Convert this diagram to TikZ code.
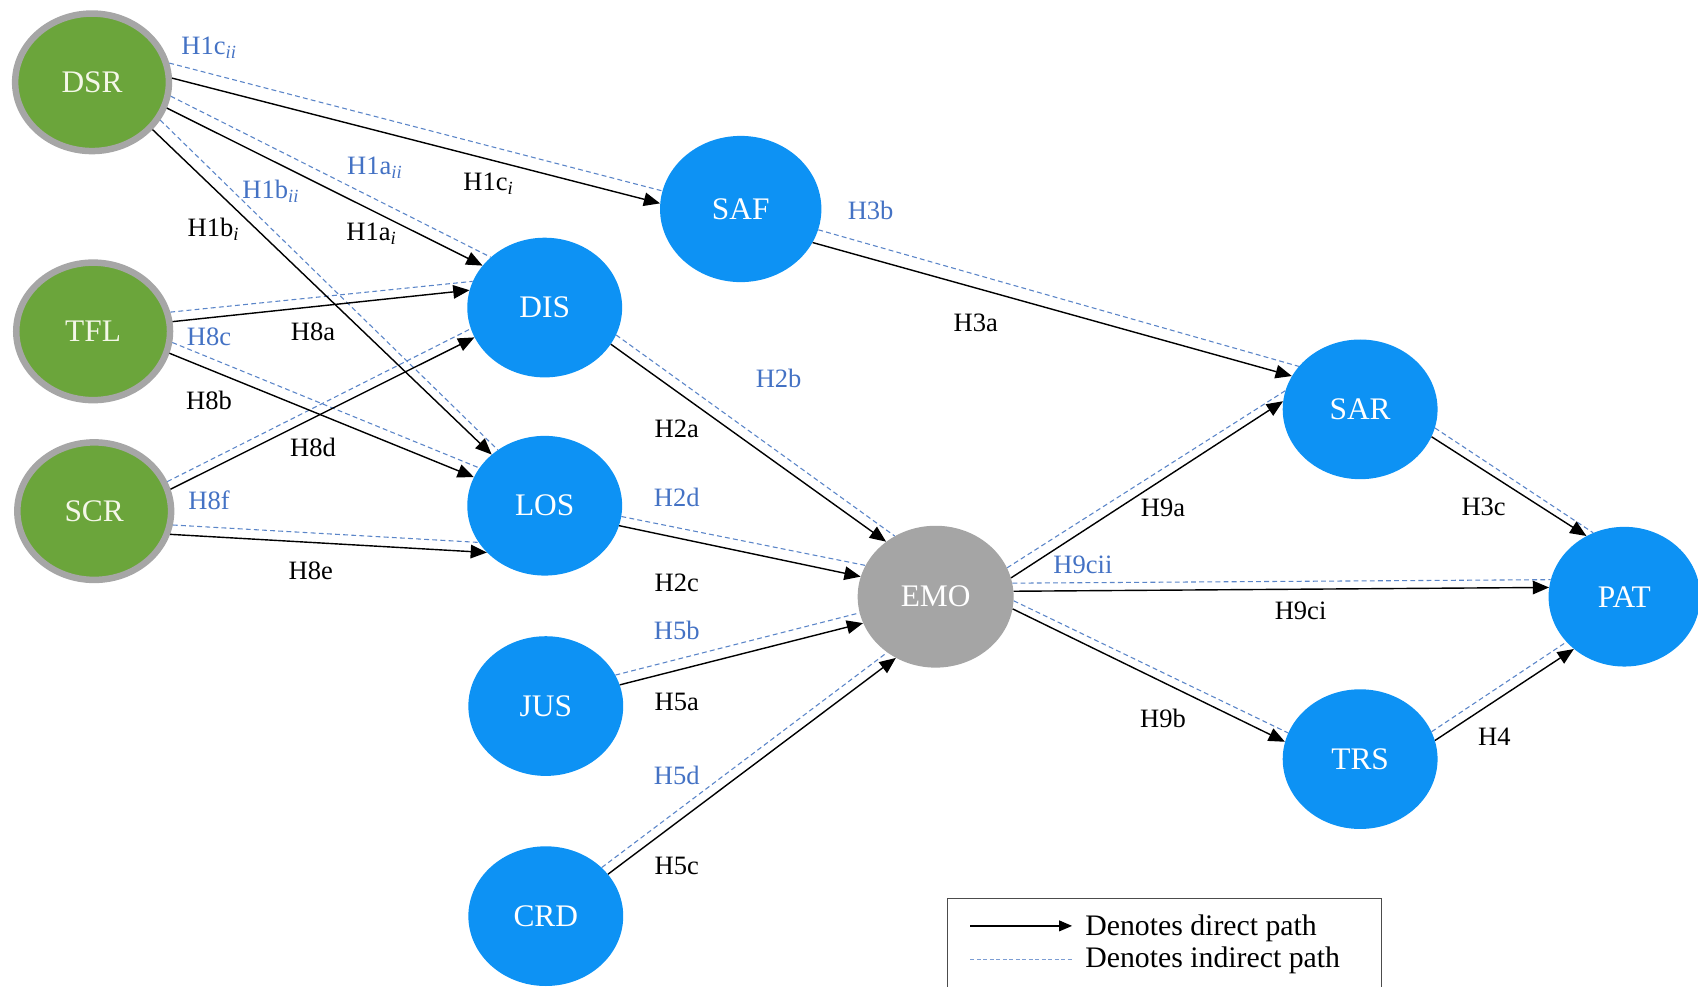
\documentclass[tikz,border=0pt]{standalone}
\usepackage{fontspec}
\setmainfont{Liberation Serif}
\usetikzlibrary{shapes.geometric,arrows.meta}

\definecolor{antgreen}{HTML}{6BA53B}
\definecolor{ringgray}{HTML}{A6A6A6}
\definecolor{medblue}{HTML}{0D92F4}
\definecolor{medgray}{HTML}{A5A5A5}
\definecolor{labblue}{HTML}{4472C4}
\definecolor{dashblue}{HTML}{5B85C8}
\definecolor{creamtext}{HTML}{F4F7E8}

\tikzset{
  construct/.style={ellipse, inner sep=0pt, font=\fontsize{29}{29}\selectfont},
  antecedent/.style={construct, fill=antgreen, draw=ringgray, line width=6pt,
    minimum width=142pt, minimum height=127pt, text=creamtext},
  mediator/.style={construct, fill=medblue, minimum width=143pt, minimum height=129pt, text=white},
  hub/.style={construct, fill=medgray, minimum width=144pt, minimum height=131pt, text=white},
  direct/.style={line width=1.3pt, black, -{Triangle[length=15pt,width=12.5pt]}},
  indirect/.style={line width=1pt, dashblue, dash pattern=on 4.5pt off 3pt},
  hlab/.style={font=\fontsize{24.5}{24.5}\selectfont, text=black, inner sep=1pt},
  hlabi/.style={hlab, text=labblue},
  legtext/.style={font=\fontsize{27.5}{27.5}\selectfont, anchor=west, inner sep=0pt}
}
\newcommand{\sbi}[1]{\textsubscript{\textit{#1}}}

\begin{document}
\begin{tikzpicture}[x=1pt,y=-1pt]
\useasboundingbox (0,0) rectangle (1568,911);
\clip (0,0) rectangle (1568,911);

% constructs
\node[antecedent] (DSR) at (85,76) {DSR};
\node[antecedent] (TFL) at (86,306) {TFL};
\node[antecedent] (SCR) at (87,472) {SCR};
\node[mediator, minimum width=149pt, minimum height=135pt] (SAF) at (684,193) {SAF};
\node[mediator] (DIS) at (503,284) {DIS};
\node[mediator] (LOS) at (503,467) {LOS};
\node[mediator] (JUS) at (504,652) {JUS};
\node[mediator] (CRD) at (504,846) {CRD};
\node[hub] (EMO) at (864,551) {EMO};
\node[mediator] (SAR) at (1256,378) {SAR};
\node[mediator] (TRS) at (1256,701) {TRS};
\node[mediator, minimum width=140pt] (PAT) at (1500,551) {PAT};

% indirect paths (dashed)
\draw[indirect] (DSR.14) -- (SAF.167);
\draw[indirect] (DSR.-10) -- (DIS.137);
\draw[indirect] (DSR.-29) -- (LOS.130);
\draw[indirect] (TFL.14) -- (DIS.160);
\draw[indirect] (TFL.-8) -- (LOS.150);
\draw[indirect] (SCR.22) -- (DIS.196);
\draw[indirect] (SCR.-10) -- (LOS.209);
\draw[indirect] (DIS.-21) -- (EMO.124);
\draw[indirect] (LOS.-8) -- (EMO.156);
\draw[indirect] (JUS.24) -- (EMO.192);
\draw[indirect] (CRD.41) -- (EMO.229);
\draw[indirect] (SAF.-15) -- (SAR.145);
\draw[indirect] (EMO.22) -- (SAR.166);
\draw[indirect] (EMO.10) -- (PAT.167);
\draw[indirect] (EMO.-3) -- (TRS.160);
\draw[indirect] (SAR.-14) -- (PAT.116);
\draw[indirect] (TRS.21) -- (PAT.218);

% direct paths (solid)
\draw[direct] (DSR.3) -- (SAF.176);
\draw[direct] (DSR.-19) -- (DIS.146);
\draw[direct] (DSR.-38) -- (LOS.136);
\draw[direct] (TFL.7) -- (DIS.167);
\draw[direct] (TFL.-16) -- (LOS.158);
\draw[direct] (SCR.16) -- (DIS.203);
\draw[direct] (SCR.-17) -- (LOS.219);
\draw[direct] (DIS.-29) -- (EMO.132);
\draw[direct] (LOS.-15) -- (EMO.165);
\draw[direct] (JUS.16) -- (EMO.200);
\draw[direct] (CRD.34) -- (EMO.237);
\draw[direct] (SAF.-25) -- (SAR.154);
\draw[direct] (EMO.14) -- (SAR.174);
\draw[direct] (EMO.4) -- (PAT.173);
\draw[direct] (EMO.-9) -- (TRS.167);
\draw[direct] (SAR.-21) -- (PAT.122);
\draw[direct] (TRS.14) -- (PAT.226);

% hypothesis labels
\node[hlabi] (l1cii) at (193,44) {H1c\sbi{ii}};
\node[hlabi] (l1aii) at (346,155) {H1a\sbi{ii}};
\node[hlabi] (l1bii) at (250,177) {H1b\sbi{ii}};
\node[hlab]  (l1ci)  at (451,170) {H1c\sbi{i}};
\node[hlab]  (l1bi)  at (197,212) {H1b\sbi{i}};
\node[hlab]  (l1ai)  at (343,216) {H1a\sbi{i}};
\node[hlab]  (l8a) at (289,306) {H8a};
\node[hlabi] (l8c) at (193,311) {H8c};
\node[hlab]  (l8b) at (193,370) {H8b};
\node[hlab]  (l8d) at (289,413) {H8d};
\node[hlabi] (l8f) at (193,462) {H8f};
\node[hlab]  (l8e) at (287,527) {H8e};
\node[hlabi] (l2b) at (719,349) {H2b};
\node[hlab]  (l2a) at (625,396) {H2a};
\node[hlabi] (l2d) at (625,459) {H2d};
\node[hlab]  (l2c) at (625,538) {H2c};
\node[hlabi] (l5b) at (625,582) {H5b};
\node[hlab]  (l5a) at (625,648) {H5a};
\node[hlabi] (l5d) at (625,716) {H5d};
\node[hlab]  (l5c) at (625,800) {H5c};
\node[hlabi] (l3b) at (804,194) {H3b};
\node[hlab]  (l3a) at (901,298) {H3a};
\node[hlab]  (l9a) at (1074,469) {H9a};
\node[hlabi] (l9cii) at (1000,522) {H9cii};
\node[hlab]  (l9ci) at (1201,564) {H9ci};
\node[hlab]  (l9b) at (1074,663) {H9b};
\node[hlab]  (l3c) at (1370,468) {H3c};
\node[hlab]  (l4) at (1380,680) {H4};

% legend
\draw[line width=1pt, black!70] (875,830) rectangle (1276,940);
\coordinate (ld1) at (896,855);
\coordinate (ld2) at (990,855);
\coordinate (li1) at (896,886);
\coordinate (li2) at (990,886);
\draw[line width=1.2pt, -{Triangle[length=12pt,width=10pt]}] (ld1) -- (ld2);
\draw[line width=0.9pt, dashblue!80, dash pattern=on 3.5pt off 2.5pt] (li1) -- (li2);
\node[legtext] (lg1) at (1002,857) {Denotes direct path};
\node[legtext] (lg2) at (1002,887) {Denotes indirect path};
\end{tikzpicture}
\end{document}
